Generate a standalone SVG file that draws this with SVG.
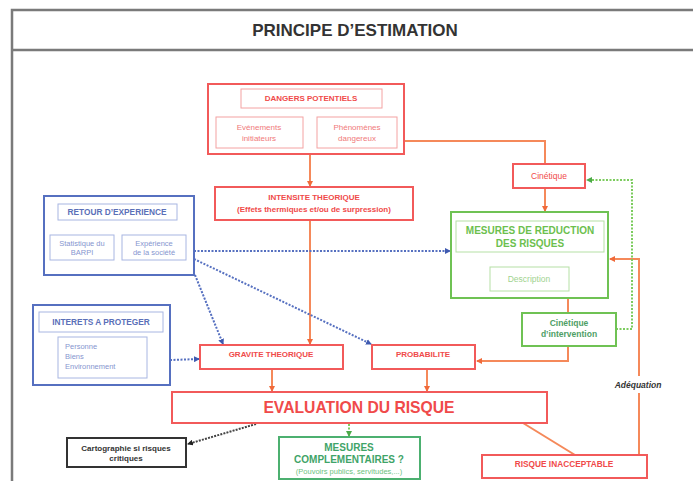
<svg xmlns="http://www.w3.org/2000/svg" width="693" height="481" viewBox="0 0 693 481">
<style>
text{font-family:"Liberation Sans",Arial,sans-serif;text-anchor:middle}
.frame{fill:none;stroke:#7a7a7a;stroke-width:2.5}
.rb{fill:#fff;stroke:#f25a5a;stroke-width:2}
.ri{fill:none;stroke:#f4a2a2;stroke-width:1}
.rt{fill:#f04a4a;font-weight:bold;font-size:8px}
.rl{fill:#f07a7a;font-size:8px}
.gb{fill:#fff;stroke:#6fc254;stroke-width:2}
.gi{fill:none;stroke:#b5e0a5;stroke-width:1}
.gt{fill:#6cbf4e;font-weight:bold;font-size:10px}
.gd{fill:#4e9e66;font-weight:bold;font-size:8.5px}
.db{fill:#fff;stroke:#4cb070;stroke-width:2}
.dt{fill:#3fa468;font-weight:bold;font-size:10px}
.bb{fill:#fff;stroke:#5670c0;stroke-width:2}
.bi{fill:none;stroke:#a8b6e2;stroke-width:1}
.bt{fill:#5a6fb8;font-weight:bold;font-size:8.3px}
.bl{fill:#8696cf;font-size:7.5px}
.kb{fill:#fff;stroke:#333;stroke-width:2}
.kt{fill:#333;font-weight:bold;font-size:8px}
.or{fill:none;stroke:#f5895a;stroke-width:2}
.gdot{fill:none;stroke:#7ccc5e;stroke-width:2;stroke-dasharray:2 1.5}
.bdot{fill:none;stroke:#5670c0;stroke-width:2;stroke-dasharray:2 1.5}
.kdot{fill:none;stroke:#444;stroke-width:2;stroke-dasharray:2 1.2}
</style>
<defs>
<marker id="ao" viewBox="0 0 6 6" refX="5" refY="3" markerWidth="6" markerHeight="6" markerUnits="userSpaceOnUse" orient="auto"><path d="M0,0 L6,3 L0,6 z" fill="#f06a3a"/></marker>
<marker id="ag" viewBox="0 0 6 6" refX="5" refY="3" markerWidth="6" markerHeight="6" markerUnits="userSpaceOnUse" orient="auto"><path d="M0,0 L6,3 L0,6 z" fill="#4caa4a"/></marker>
<marker id="ab" viewBox="0 0 6 6" refX="5" refY="3" markerWidth="6" markerHeight="6" markerUnits="userSpaceOnUse" orient="auto"><path d="M0,0 L6,3 L0,6 z" fill="#3f5ab0"/></marker>
<marker id="ak" viewBox="0 0 6 6" refX="5" refY="3" markerWidth="6" markerHeight="6" markerUnits="userSpaceOnUse" orient="auto"><path d="M0,0 L6,3 L0,6 z" fill="#222"/></marker>
</defs>
<rect width="693" height="481" fill="#fff"/>
<g id="frame">
<rect class="frame" x="12" y="10" width="720" height="520"/>
<line class="frame" x1="12" y1="50" x2="693" y2="50"/>
<text x="355" y="36" style="font-size:17px;font-weight:bold;fill:#333">PRINCIPE D’ESTIMATION</text>
</g>
<g id="connectors">
<path class="or" d="M310,154 V186" marker-end="url(#ao)"/>
<path class="or" d="M404,141 H545 V163"/>
<path class="or" d="M545,188 V211" marker-end="url(#ao)"/>
<path class="or" d="M310,220 V344" marker-end="url(#ao)"/>
<path class="or" d="M568,298 V313"/>
<path class="or" d="M568,346 V361 H477" marker-end="url(#ao)"/>
<path class="or" d="M639,455 V393 M639,376 V259 H610" marker-end="url(#ao)"/>
<path class="or" d="M272,369 V391" marker-end="url(#ao)"/>
<path class="or" d="M427,369 V391" marker-end="url(#ao)"/>
<path class="or" d="M523,423 L575,455"/>
<path class="gdot" d="M616,329 H632 V180 H587" marker-end="url(#ag)"/>
<path class="gdot" d="M349,424 V436" marker-end="url(#ag)"/>
<path class="kdot" d="M256,424 L188,444" marker-end="url(#ak)"/>
<path class="bdot" d="M194,251 H450" marker-end="url(#ab)"/>
<path class="bdot" d="M194,259 L371,344" marker-end="url(#ab)"/>
<path class="bdot" d="M195,275 L223,344" marker-end="url(#ab)"/>
<path class="bdot" d="M170,360 L199,359" marker-end="url(#ab)"/>
<text x="638" y="388" style="font-size:8.5px;font-weight:bold;font-style:italic;fill:#333">Adéquation</text>
</g>
<g id="dangers">
<rect class="rb" x="208" y="84" width="196" height="70"/>
<rect class="ri" x="241" y="89" width="141" height="19"/>
<text class="rt" x="311" y="101">DANGERS POTENTIELS</text>
<rect class="ri" x="216" y="117" width="87" height="31"/>
<text class="rl" x="259" y="130">Evénements</text>
<text class="rl" x="259" y="141">initiateurs</text>
<rect class="ri" x="317" y="117" width="80" height="31"/>
<text class="rl" x="357" y="130">Phénomènes</text>
<text class="rl" x="357" y="141">dangereux</text>
</g>
<g id="intensite">
<rect class="rb" x="215" y="187" width="198" height="33"/>
<text class="rt" x="314" y="200">INTENSITE THEORIQUE</text>
<text class="rt" x="314" y="212">(Effets thermiques et/ou de surpression)</text>
</g>
<g id="cinetique">
<rect class="rb" x="513" y="164" width="72" height="24"/>
<text x="549" y="179" style="font-size:8.5px;fill:#f04a4a">Cinétique</text>
</g>
<g id="mesures-reduction">
<rect class="gb" x="451" y="212" width="157" height="86"/>
<rect class="gi" x="456" y="221" width="148" height="31"/>
<text class="gt" x="530" y="234">MESURES DE REDUCTION</text>
<text class="gt" x="530" y="247">DES RISQUES</text>
<rect class="gi" x="490" y="267" width="79" height="24"/>
<text x="529" y="282" style="font-size:8.5px;fill:#9fd390">Description</text>
</g>
<g id="cinetique-intervention">
<rect class="gb" x="522" y="313" width="94" height="33"/>
<text class="gd" x="569" y="326">Cinétique</text>
<text class="gd" x="569" y="337">d’intervention</text>
</g>
<g id="retour-experience">
<rect class="bb" x="44" y="196" width="150" height="79"/>
<rect class="bi" x="58" y="204" width="119" height="16"/>
<text class="bt" x="117" y="215">RETOUR D’EXPERIENCE</text>
<rect class="bi" x="50" y="235" width="64" height="25"/>
<text class="bl" x="82" y="246">Statistique du</text>
<text class="bl" x="82" y="255">BARPI</text>
<rect class="bi" x="122" y="235" width="64" height="25"/>
<text class="bl" x="154" y="246">Expérience</text>
<text class="bl" x="154" y="255">de la société</text>
</g>
<g id="interets">
<rect class="bb" x="33" y="305" width="137" height="80"/>
<rect class="bi" x="39" y="312" width="124" height="20"/>
<text class="bt" x="101" y="325">INTERETS A PROTEGER</text>
<rect class="bi" x="58" y="337" width="89" height="41"/>
<text class="bl" x="65" y="349" style="text-anchor:start">Personne</text>
<text class="bl" x="65" y="359" style="text-anchor:start">Biens</text>
<text class="bl" x="65" y="369" style="text-anchor:start">Environnement</text>
</g>
<g id="gravite">
<rect class="rb" x="200" y="345" width="143" height="24"/>
<text class="rt" x="271" y="357">GRAVITE THEORIQUE</text>
</g>
<g id="probabilite">
<rect class="rb" x="372" y="345" width="103" height="24"/>
<text class="rt" x="423" y="357">PROBABILITE</text>
</g>
<g id="evaluation">
<rect class="rb" x="172" y="392" width="375" height="31"/>
<text x="359" y="413" style="font-size:15.7px;font-weight:bold;fill:#f04a4a">EVALUATION DU RISQUE</text>
</g>
<g id="cartographie">
<rect class="kb" x="67" y="438" width="119" height="29"/>
<text class="kt" x="126" y="451">Cartographie si risques</text>
<text class="kt" x="126" y="461">critiques</text>
</g>
<g id="mesures-complementaires">
<rect class="db" x="279" y="437" width="141" height="42"/>
<text class="dt" x="349" y="451">MESURES</text>
<text class="dt" x="349" y="463">COMPLEMENTAIRES ?</text>
<text x="349" y="474" style="font-size:7.5px;fill:#6cbf80">(Pouvoirs publics, servitudes,...)</text>
</g>
<g id="risque-inacceptable">
<rect class="rb" x="482" y="455" width="165" height="23"/>
<text class="rt" x="564" y="467" style="font-size:8.3px">RISQUE INACCEPTABLE</text>
</g>
</svg>
